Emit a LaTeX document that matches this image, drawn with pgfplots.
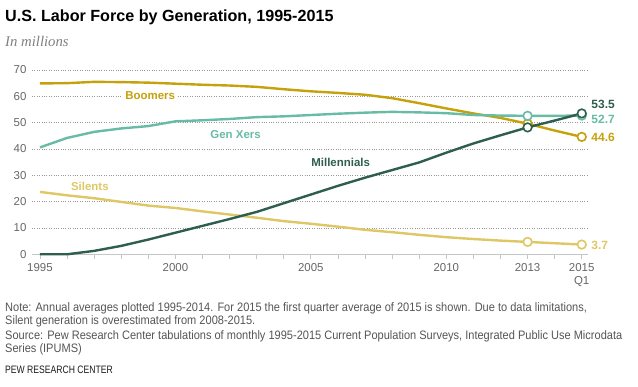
\documentclass[border=0pt]{standalone}
\usepackage{fontspec}
\setmainfont{Liberation Sans}
\newfontfamily\serifit{Liberation Serif}
\newfontfamily\condf[FakeStretch=0.9]{Liberation Sans}
\newfontfamily\pewf[FakeStretch=0.8]{Liberation Sans}
\usepackage{pgfplots}
\pgfplotsset{compat=1.18}
\definecolor{boom}{HTML}{C5A10C}
\definecolor{genx}{HTML}{68BBA5}
\definecolor{mill}{HTML}{2E5E4D}
\definecolor{sil}{HTML}{DEC764}
\definecolor{tickc}{HTML}{666666}
\definecolor{notec}{HTML}{555555}
\pgfplotstableread{
year boom genx mill sil
1995 64.9 40.6 0.0 23.7
1996 65.0 44.2 0.0 22.4
1997 65.5 46.5 1.3 21.3
1998 65.4 47.8 3.2 19.9
1999 65.2 48.7 5.6 18.5
2000 64.8 50.5 8.2 17.6
2001 64.4 50.9 10.8 16.3
2002 64.1 51.4 13.4 15.1
2003 63.6 52.1 16.1 13.9
2004 62.7 52.4 19.4 12.6
2005 61.9 52.9 22.7 11.6
2006 61.3 53.4 26.0 10.5
2007 60.6 53.8 29.1 9.3
2008 59.3 54.1 32.0 8.4
2009 57.4 53.9 34.9 7.4
2010 55.4 53.6 38.6 6.5
2011 53.5 52.9 42.1 5.8
2012 51.8 52.7 45.2 5.2
2013 49.6 52.6 48.2 4.7
2014 47.0 52.6 50.8 4.2
2015 44.6 52.7 53.5 3.7
}\data
\begin{document}
\begin{tikzpicture}
\useasboundingbox (0,0) rectangle (638bp,387bp);
\begin{scope}[x=1bp,y=1bp]
\node[anchor=base west, inner sep=0, font=\fontsize{16.2}{18}\selectfont\bfseries] at (5,366) {U.S. Labor Force by Generation, 1995-2015};
\node[anchor=base west, inner sep=0, text=gray, font=\fontsize{14.8}{16}\selectfont\serifit\itshape] at (5,341) {In millions};
\end{scope}
\begin{axis}[
  scale only axis, width=556bp, height=184.3bp,
  anchor=south west, at={(32bp,132.7bp)},
  xmin=1994.705, xmax=2015.23, ymin=0, ymax=70,
  clip=false,
  axis x line*=bottom, axis y line*=left,
  x axis line style={draw=gray!45, line width=1bp, -},
  y axis line style={draw=none},
  xtick={1995,...,2015},
  xticklabels={1995,,,,,2000,,,,,2005,,,,,2010,,,2013,,{2015\\Q1}},
  xtick align=outside,
  major tick length=5bp,
  xtick style={draw=gray!45, line width=0.8bp},
  ytick={10,20,...,70},
  extra y ticks={0},
  extra y tick style={ymajorgrids=false},
  ytick style={draw=none},
  ymajorgrids,
  grid style={dotted, gray!80, line width=0.9bp},
  tick label style={font=\fontsize{11.5}{13}\selectfont, text=tickc},
  /pgf/number format/assume math mode=true,
  xticklabel style={align=center, yshift=-1bp},
  yticklabel style={anchor=east, xshift=-2bp},
  every axis plot/.append style={line width=2.4bp},
  mk/.style={mark=*, mark indices={19,21}, mark options={fill=white, draw=#1, line width=1.6bp}, mark size=4.3bp},
]
\addplot[sil, mk=sil] table[x=year,y=sil] {\data};
\addplot[boom, mk=boom] table[x=year,y=boom] {\data};
\addplot[genx, mk=genx] table[x=year,y=genx] {\data};
\addplot[mill, mk=mill] table[x=year,y=mill] {\data};
\node[fill=white, inner sep=2bp, text=boom, font=\fontsize{11.5}{13}\selectfont\bfseries] at (axis cs:1999.07,60.1) {Boomers};
\node[inner sep=0, text=genx, font=\fontsize{11.5}{13}\selectfont\bfseries] at (axis cs:2002.22,45.3) {Gen Xers};
\node[inner sep=0, text=mill, font=\fontsize{11.5}{13}\selectfont\bfseries] at (axis cs:2006.1,34.9) {Millennials};
\node[inner sep=0, text=sil, font=\fontsize{11.5}{13}\selectfont\bfseries] at (axis cs:1996.84,25.7) {Silents};
\node[anchor=west, inner sep=0, text=mill, font=\fontsize{12}{14}\selectfont\bfseries] at (axis cs:2015.35,57.1) {53.5};
\node[anchor=west, inner sep=0, text=genx, font=\fontsize{12}{14}\selectfont\bfseries] at (axis cs:2015.35,51.4) {52.7};
\node[anchor=west, inner sep=0, text=boom, font=\fontsize{12}{14}\selectfont\bfseries] at (axis cs:2015.35,44.5) {44.6};
\node[anchor=west, inner sep=0, text=sil, font=\fontsize{12}{14}\selectfont\bfseries] at (axis cs:2015.35,3.5) {3.7};
\end{axis}
\begin{scope}[x=1bp,y=1bp,every node/.style={anchor=base west, inner sep=0, text=notec, font=\fontsize{12.3}{14}\selectfont\condf}]
\node at (5,75.3) {Note: Annual averages plotted 1995-2014. For 2015 the first quarter average of 2015 is shown. Due to data limitations,};
\node at (5,62.7) {Silent generation is overestimated from 2008-2015.};
\node at (5,48) {Source: Pew Research Center tabulations of monthly 1995-2015 Current Population Surveys, Integrated Public Use Microdata};
\node at (5,34.7) {Series (IPUMS)};
\node[text=black!90, font=\fontsize{10.8}{12}\selectfont\pewf] at (5,13.3) {PEW RESEARCH CENTER};
\end{scope}
\end{tikzpicture}
\end{document}
